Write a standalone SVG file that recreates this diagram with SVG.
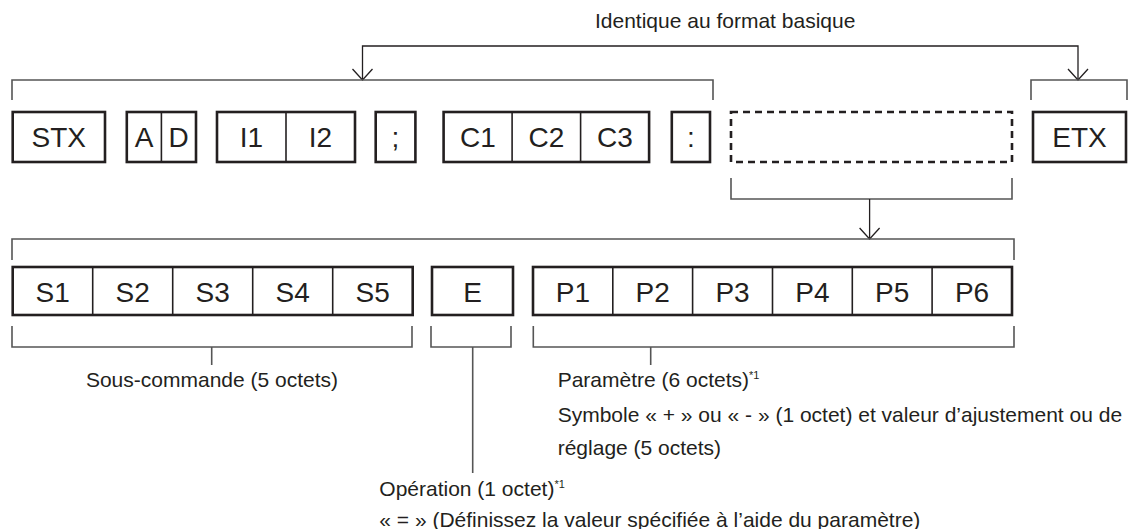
<svg xmlns="http://www.w3.org/2000/svg" width="1131" height="529" viewBox="0 0 1131 529">
<style>
.box{fill:#fff;stroke:#231f20;stroke-width:2.6}
.div{stroke:#231f20;stroke-width:1.6;fill:none}
.dash{fill:#fff;stroke:#231f20;stroke-width:2.6;stroke-dasharray:7 5}
.lbl{font-family:"Liberation Sans",Arial,sans-serif;font-size:28px;fill:#231f20;text-anchor:middle}
.br{fill:none;stroke:#555;stroke-width:1.6}
.ar{fill:none;stroke:#231f20;stroke-width:1.3}
.txt{font-family:"Liberation Sans",Arial,sans-serif;font-size:21px;fill:#231f20}
.sup{font-size:11px}
</style>
<defs>
<marker id="open" markerUnits="userSpaceOnUse" viewBox="-12 -12 24 24" markerWidth="24" markerHeight="24" refX="0" refY="0" orient="auto-start-reverse" overflow="visible">
<path d="M-11,-10 L0,0 L-11,10" fill="none" stroke="#231f20" stroke-width="1.3"/>
</marker>
</defs>
<rect width="1131" height="529" fill="#fff"/>

<g id="connectors">
<path class="ar" d="M362.5,80 V46 H1078 V80" marker-start="url(#open)" marker-end="url(#open)"/>
<path class="br" d="M12,100 V80 H713 V100"/>
<path class="br" d="M1031,100 V80 H1127 V100"/>
<path class="br" d="M731,178 V199 H1012 V178"/>
<path class="ar" d="M869.6,199 V239" marker-end="url(#open)"/>
<path class="br" d="M12,260 V239 H1014 V260"/>
<path class="br" d="M12,326 V347 H412 V326"/>
<path class="br" d="M211.7,347 V365"/>
<path class="br" d="M431,326 V347 H511 V326"/>
<path class="br" d="M472.7,347 V473"/>
<path class="br" d="M533.3,326 V347 H1014 V326"/>
<path class="br" d="M650.7,347 V365"/>
</g>

<g id="stx">
<rect class="box" x="12.7" y="112" width="92.3" height="50"/>
<text class="lbl" x="58.8" y="147">STX</text>
</g>
<g id="ad">
<rect class="box" x="126.8" y="112" width="69.2" height="50"/>
<line class="div" x1="161.4" y1="112" x2="161.4" y2="162"/>
<text class="lbl" x="144.1" y="147">A</text>
<text class="lbl" x="178.7" y="147">D</text>
</g>
<g id="i1i2">
<rect class="box" x="217" y="112" width="138" height="50"/>
<line class="div" x1="286" y1="112" x2="286" y2="162"/>
<text class="lbl" x="251.5" y="147">I1</text>
<text class="lbl" x="320.5" y="147">I2</text>
</g>
<g id="semicolon">
<rect class="box" x="375.7" y="112" width="39.7" height="50"/>
<text class="lbl" x="395.5" y="147">;</text>
</g>
<g id="c1c2c3">
<rect class="box" x="443.6" y="112" width="205.5" height="50"/>
<line class="div" x1="512.1" y1="112" x2="512.1" y2="162"/>
<line class="div" x1="580.6" y1="112" x2="580.6" y2="162"/>
<text class="lbl" x="477.9" y="147">C1</text>
<text class="lbl" x="546.4" y="147">C2</text>
<text class="lbl" x="614.9" y="147">C3</text>
</g>
<g id="colon">
<rect class="box" x="671.8" y="112" width="38.2" height="50"/>
<text class="lbl" x="690.9" y="147">:</text>
</g>
<g id="data">
<rect class="dash" x="731" y="112" width="281" height="50"/>
</g>
<g id="etx">
<rect class="box" x="1033" y="112" width="93" height="50"/>
<text class="lbl" x="1079.5" y="147">ETX</text>
</g>

<g id="subcommand">
<rect class="box" x="12.7" y="267" width="400" height="48"/>
<line class="div" x1="92.7" y1="267" x2="92.7" y2="315"/>
<line class="div" x1="172.7" y1="267" x2="172.7" y2="315"/>
<line class="div" x1="252.7" y1="267" x2="252.7" y2="315"/>
<line class="div" x1="332.7" y1="267" x2="332.7" y2="315"/>
<text class="lbl" x="52.7" y="301.5">S1</text>
<text class="lbl" x="132.7" y="301.5">S2</text>
<text class="lbl" x="212.7" y="301.5">S3</text>
<text class="lbl" x="292.7" y="301.5">S4</text>
<text class="lbl" x="372.7" y="301.5">S5</text>
</g>
<g id="operation">
<rect class="box" x="432" y="267" width="81" height="48"/>
<text class="lbl" x="472.5" y="301.5">E</text>
</g>
<g id="parameter">
<rect class="box" x="533" y="267" width="479" height="48"/>
<line class="div" x1="612.8" y1="267" x2="612.8" y2="315"/>
<line class="div" x1="692.6" y1="267" x2="692.6" y2="315"/>
<line class="div" x1="772.5" y1="267" x2="772.5" y2="315"/>
<line class="div" x1="852.3" y1="267" x2="852.3" y2="315"/>
<line class="div" x1="932.1" y1="267" x2="932.1" y2="315"/>
<text class="lbl" x="572.9" y="301.5">P1</text>
<text class="lbl" x="652.7" y="301.5">P2</text>
<text class="lbl" x="732.5" y="301.5">P3</text>
<text class="lbl" x="812.4" y="301.5">P4</text>
<text class="lbl" x="892.2" y="301.5">P5</text>
<text class="lbl" x="972" y="301.5">P6</text>
</g>

<g id="labels">
<text class="txt" x="595" y="28">Identique au format basique</text>
<text class="txt" x="212" y="387" text-anchor="middle">Sous-commande (5 octets)</text>
<text class="txt" x="557.7" y="387">Paramètre (6 octets)<tspan class="sup" dy="-8">*1</tspan></text>
<text class="txt" x="557.7" y="422">Symbole « + » ou « - » (1 octet) et valeur d’ajustement ou de</text>
<text class="txt" x="557.7" y="455">réglage (5 octets)</text>
<text class="txt" x="379.3" y="496">Opération (1 octet)<tspan class="sup" dy="-8">*1</tspan></text>
<text class="txt" x="379.3" y="527">« = » (Définissez la valeur spécifiée à l’aide du paramètre)</text>
</g>
</svg>
